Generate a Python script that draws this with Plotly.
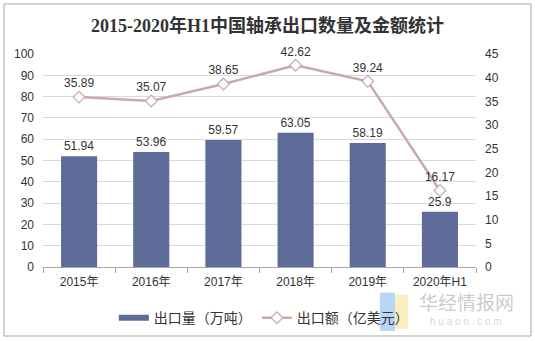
import plotly.graph_objects as go

# Bearing exports, 2015 – 2020 H1
categories = ["2015年", "2016年", "2017年", "2018年", "2019年", "2020年H1"]
export_volume = [51.94, 53.96, 59.57, 63.05, 58.19, 25.9]     # 万吨
export_value = [35.89, 35.07, 38.65, 42.62, 39.24, 16.17]     # 亿美元

FONT = "Liberation Sans, Arial, Noto Sans CJK SC, sans-serif"
BAR_COLOR = "#5e6b98"
LINE_COLOR = "#c9aaaa"

fig = go.Figure()

fig.add_trace(go.Bar(
    x=categories, y=export_volume, name="出口量（万吨）", showlegend=False,
    marker=dict(color=BAR_COLOR, line=dict(width=0)),
    width=0.5,
    text=[f"{v:g}" for v in export_volume], textposition="outside",
    textfont=dict(size=12, color="#333333", family=FONT),
    cliponaxis=False,
))
# legend entry for the bars, drawn as a thick bar-coloured stroke
fig.add_trace(go.Scatter(
    x=[None], y=[None], name="出口量（万吨）", mode="lines",
    line=dict(color=BAR_COLOR, width=6),
))

fig.add_trace(go.Scatter(
    x=categories, y=export_value, name="出口额（亿美元）", yaxis="y2",
    mode="lines+markers+text",
    line=dict(color=LINE_COLOR, width=2.5),
    marker=dict(symbol="diamond", size=9, color="white",
                line=dict(color=LINE_COLOR, width=1.2)),
    text=[f"{v:g}" for v in export_value], textposition="top center",
    textfont=dict(size=12, color="#333333", family=FONT),
    cliponaxis=False,
))

# outer frame
fig.add_shape(type="rect", xref="paper", yref="paper",
              x0=-0.090, x1=1.127, y0=-0.324, y1=1.235,
              line=dict(color="#a6a6a6", width=1), fillcolor="rgba(0,0,0,0)")

# watermark logo and text
fig.add_shape(type="rect", xref="paper", yref="paper",
              x0=0.778, x1=0.813, y0=-0.30, y1=-0.12,
              line=dict(width=0), fillcolor="rgba(130,180,240,0.55)", layer="above")
fig.add_shape(type="rect", xref="paper", yref="paper",
              x0=0.813, x1=0.843, y0=-0.29, y1=-0.13,
              line=dict(width=0), fillcolor="rgba(245,225,140,0.55)", layer="above")
fig.add_annotation(xref="paper", yref="paper", x=0.977, y=-0.16,
                   xanchor="center", yanchor="middle",
                   text="华经情报网", showarrow=False,
                   font=dict(size=19, color="rgba(150,150,150,0.5)", family="Noto Sans CJK SC"))
fig.add_annotation(xref="paper", yref="paper", x=0.977, y=-0.255,
                   xanchor="center", yanchor="middle",
                   text="h u a o n . c o m", showarrow=False,
                   font=dict(size=10, color="rgba(170,170,170,0.5)", family=FONT))

fig.update_layout(
    width=535, height=341,
    margin=dict(l=43, r=59, t=54, b=74, autoexpand=False),
    paper_bgcolor="white", plot_bgcolor="white",
    font=dict(family=FONT, size=12, color="#333333"),
    title=dict(text="<b>2015-2020年H1中国轴承出口数量及金额统计</b>",
               x=0.5, xanchor="center", y=0.925, yanchor="middle",
               font=dict(family="Liberation Serif, Noto Sans CJK SC, serif",
                         size=18, color="#333333")),
    bargap=0.5,
    showlegend=True,
    legend=dict(orientation="h", x=0.51, xanchor="center", y=-0.24, yanchor="middle",
                bgcolor="rgba(0,0,0,0)",
                font=dict(size=14, color="#333333", family="Noto Sans CJK SC"),
                itemwidth=30, tracegroupgap=0),
    xaxis=dict(type="category", tickson="boundaries", ticks="outside", ticklen=5,
               tickcolor="#a6a6a6", showline=True, linecolor="#a6a6a6", linewidth=1,
               showgrid=False, tickfont=dict(size=12, color="#333333"),
               ticklabelstandoff=4, fixedrange=True),
    yaxis=dict(range=[0, 100], dtick=10, showgrid=True, gridcolor="#d9d9d9",
               gridwidth=1, zeroline=False, showline=False, ticks="",
               tickfont=dict(size=12, color="#333333"), ticklabelstandoff=8),
    yaxis2=dict(range=[0, 45], dtick=5, overlaying="y", side="right",
                showgrid=False, zeroline=False, showline=False, ticks="",
                tickfont=dict(size=12, color="#333333"), ticklabelstandoff=8),
)

fig.write_html("out.html")
